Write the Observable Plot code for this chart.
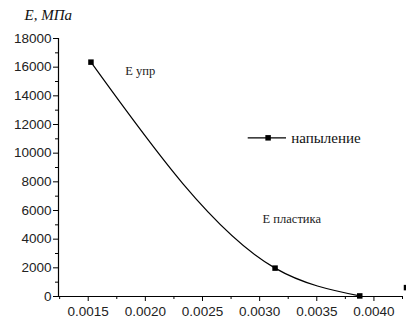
<!DOCTYPE html>
<html><head><meta charset="utf-8">
<script src="https://cdn.jsdelivr.net/npm/d3@7"></script>
<script src="https://cdn.jsdelivr.net/npm/@observablehq/plot@0.6"></script>
<style>body{margin:0;background:#fff}</style>
</head><body><div id="chart"></div>
<script>
// data
const strain = [0.001524, 0.003135, 0.003876];
const modulus = [16350, 1980, 40];
const extraStrain = [0.004285];
const extraModulus = [620];
const seriesName = "напыление";
const yLabel = "E, МПа";
const noteLabels = ["E упр", "E пластика"];
const noteStrain = [0.001824, 0.003026];
const noteModulus = [15750, 5400];
const legendStrain = [0.00290, 0.003074, 0.003235, 0.003276];
const legendModulus = [11070];
const xTicks = [0.0015, 0.0020, 0.0025, 0.0030, 0.0035, 0.0040];
const xMinorTicks = [0.00125, 0.00175, 0.00225, 0.00275, 0.00325, 0.00375, 0.00425];
const yTicks = [0, 2000, 4000, 6000, 8000, 10000, 12000, 14000, 16000, 18000];
const yMinorTicks = [1000, 3000, 5000, 7000, 9000, 11000, 13000, 15000, 17000];
const xDomain = [0.00124, 0.00425];
const yDomain = [0, 18000];

const pts = strain.map((s, i) => ({s, e: modulus[i]}));
const extra = extraStrain.map((s, i) => ({s, e: extraModulus[i]}));
const notes = noteLabels.map((t, i) => ({t, s: noteStrain[i], e: noteModulus[i]}));
const serifTexts = new Set([yLabel, seriesName, ...noteLabels]);
const serifFace = "'Liberation Serif', 'DejaVu Serif', 'Times New Roman', serif";

const chart = Plot.plot({
  width: 406, height: 320,
  marginLeft: 58, marginRight: 4, marginTop: 38, marginBottom: 24,
  style: {fontFamily: "Liberation Sans, Arial, sans-serif", background: "#fff", overflow: "visible"},
  x: {domain: xDomain},
  y: {domain: yDomain},
  marks: [
    Plot.axisX({ticks: xTicks, tickSize: 5, tickPadding: 5, tickFormat: d3.format(".4f"), fontSize: 13.5, label: null, fill: "#222"}),
    Plot.axisX({ticks: xMinorTicks, tickSize: 3, tickFormat: () => "", label: null}),
    Plot.axisY({ticks: yTicks, tickSize: 5, tickPadding: 2, tickFormat: d3.format("d"), fontSize: 13.5, label: null, fill: "#222"}),
    Plot.axisY({ticks: yMinorTicks, tickSize: 3, tickFormat: () => "", label: null}),
    Plot.ruleY([yDomain[0]], {x1: xDomain[0], x2: xDomain[1], stroke: "black", strokeWidth: 1.2}),
    Plot.ruleX([xDomain[0]], {y1: yDomain[0], y2: yDomain[1], stroke: "black", strokeWidth: 1.2}),
    Plot.line(pts, {x: "s", y: "e", curve: "monotone-x", stroke: "black", strokeWidth: 1.2}),
    Plot.dot(pts, {x: "s", y: "e", symbol: "square", r: 3.1, fill: "black", stroke: null}),
    Plot.dot(extra, {x: "s", y: "e", symbol: "square", r: 3.1, fill: "black", stroke: null}),
    Plot.text([yLabel], {frameAnchor: "top-left", dx: -34, dy: -23, textAnchor: "start", lineAnchor: "middle", fontStyle: "italic", fontSize: 15, fill: "#111", fontFamily: serifFace}),
    Plot.text(notes, {x: "s", y: "e", text: "t", textAnchor: "start", lineAnchor: "middle", fontSize: 12.5, fill: "#222", fontFamily: serifFace}),
    Plot.ruleY(legendModulus, {x1: legendStrain[0], x2: legendStrain[2], stroke: "black", strokeWidth: 1.2}),
    Plot.dot(legendModulus, {x: legendStrain[1], y: d => d, symbol: "square", r: 3.1, fill: "black", stroke: null}),
    Plot.text([seriesName], {x: legendStrain[3], y: legendModulus[0], textAnchor: "start", lineAnchor: "middle", fontSize: 15, fill: "#111", fontFamily: serifFace})
  ]
});
// annotation texts use the serif face, like the original
d3.select(chart).selectAll("text")
  .filter(function() { return serifTexts.has(this.textContent.trim()); })
  .attr("font-family", serifFace)
  .style("font-family", serifFace);
document.getElementById("chart").appendChild(chart);
</script>
</body></html>
